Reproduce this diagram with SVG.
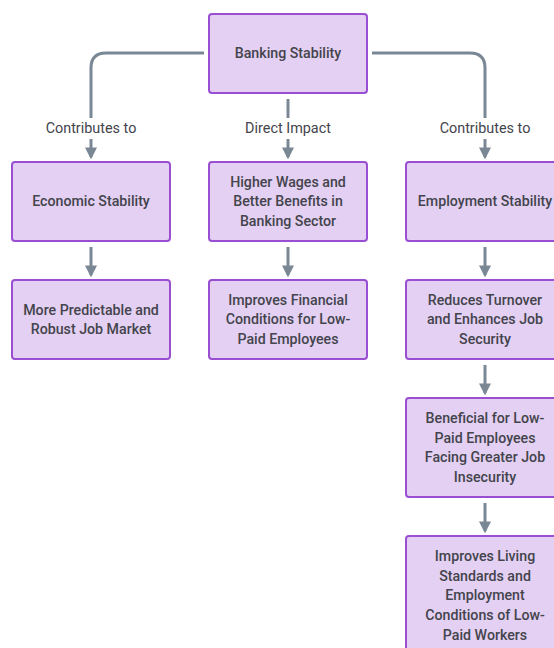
<svg xmlns="http://www.w3.org/2000/svg" width="554" height="648" viewBox="0 0 554 648">
<defs>
<style>
.box{fill:#e3d0f3;stroke:#9a4fd2;stroke-width:2}
.t{font-family:Roboto,"Liberation Sans",sans-serif;font-size:14.2px;fill:#44444c;text-anchor:middle;font-weight:500}
.lbl{font-family:Roboto,"Liberation Sans",sans-serif;font-size:14.4px;fill:#44444c;text-anchor:middle}
.c{fill:none;stroke:#7a8896;stroke-width:3}
</style>
<marker id="ah" viewBox="0 0 10 10" refX="8" refY="5" markerWidth="4" markerHeight="4" orient="auto" markerUnits="strokeWidth">
<path d="M0,0 L10,5 L0,10 z" fill="#7a8896"/>
</marker>
</defs>
<rect width="554" height="648" fill="#ffffff"/>
<g id="connectors">
<path class="c" d="M204,53 H106 Q91,53 91,68 V118"/>
<path class="c" d="M91,139 V157" marker-end="url(#ah)"/>
<path class="c" d="M288,99 V118"/>
<path class="c" d="M288,139 V157" marker-end="url(#ah)"/>
<path class="c" d="M372,53 H470 Q485,53 485,68 V118"/>
<path class="c" d="M485,139 V157" marker-end="url(#ah)"/>
<path class="c" d="M91,247 V275" marker-end="url(#ah)"/>
<path class="c" d="M288,247 V275" marker-end="url(#ah)"/>
<path class="c" d="M485,247 V275" marker-end="url(#ah)"/>
<path class="c" d="M485,365 V393" marker-end="url(#ah)"/>
<path class="c" d="M485,503 V531" marker-end="url(#ah)"/>
<text class="lbl" x="91" y="133">Contributes to</text>
<text class="lbl" x="288" y="133">Direct Impact</text>
<text class="lbl" x="485" y="133">Contributes to</text>
</g>
<g id="banking"><rect class="box" x="209" y="14" width="158" height="79" rx="3"/><text class="t" x="288" y="58">Banking Stability</text></g>
<g id="economic"><rect class="box" x="12" y="162" width="158" height="79" rx="3"/><text class="t" x="91" y="206">Economic Stability</text></g>
<g id="wages"><rect class="box" x="209" y="162" width="158" height="79" rx="3"/><text class="t" x="288" y="187">Higher Wages and</text><text class="t" x="288" y="206">Better Benefits in</text><text class="t" x="288" y="226">Banking Sector</text></g>
<g id="employment"><rect class="box" x="406" y="162" width="158" height="79" rx="3"/><text class="t" x="485" y="206">Employment Stability</text></g>
<g id="jobmarket"><rect class="box" x="12" y="280" width="158" height="79" rx="3"/><text class="t" x="91" y="315">More Predictable and</text><text class="t" x="91" y="334">Robust Job Market</text></g>
<g id="financial"><rect class="box" x="209" y="280" width="158" height="79" rx="3"/><text class="t" x="288" y="305">Improves Financial</text><text class="t" x="288" y="324">Conditions for Low-</text><text class="t" x="288" y="344">Paid Employees</text></g>
<g id="turnover"><rect class="box" x="406" y="280" width="158" height="79" rx="3"/><text class="t" x="485" y="305">Reduces Turnover</text><text class="t" x="485" y="324">and Enhances Job</text><text class="t" x="485" y="344">Security</text></g>
<g id="beneficial"><rect class="box" x="406" y="398" width="158" height="99" rx="3"/><text class="t" x="485" y="423">Beneficial for Low-</text><text class="t" x="485" y="443">Paid Employees</text><text class="t" x="485" y="462">Facing Greater Job</text><text class="t" x="485" y="482">Insecurity</text></g>
<g id="living"><rect class="box" x="406" y="536" width="158" height="120" rx="3"/><text class="t" x="485" y="561">Improves Living</text><text class="t" x="485" y="581">Standards and</text><text class="t" x="485" y="600">Employment</text><text class="t" x="485" y="620">Conditions of Low-</text><text class="t" x="485" y="640">Paid Workers</text></g>
</svg>
